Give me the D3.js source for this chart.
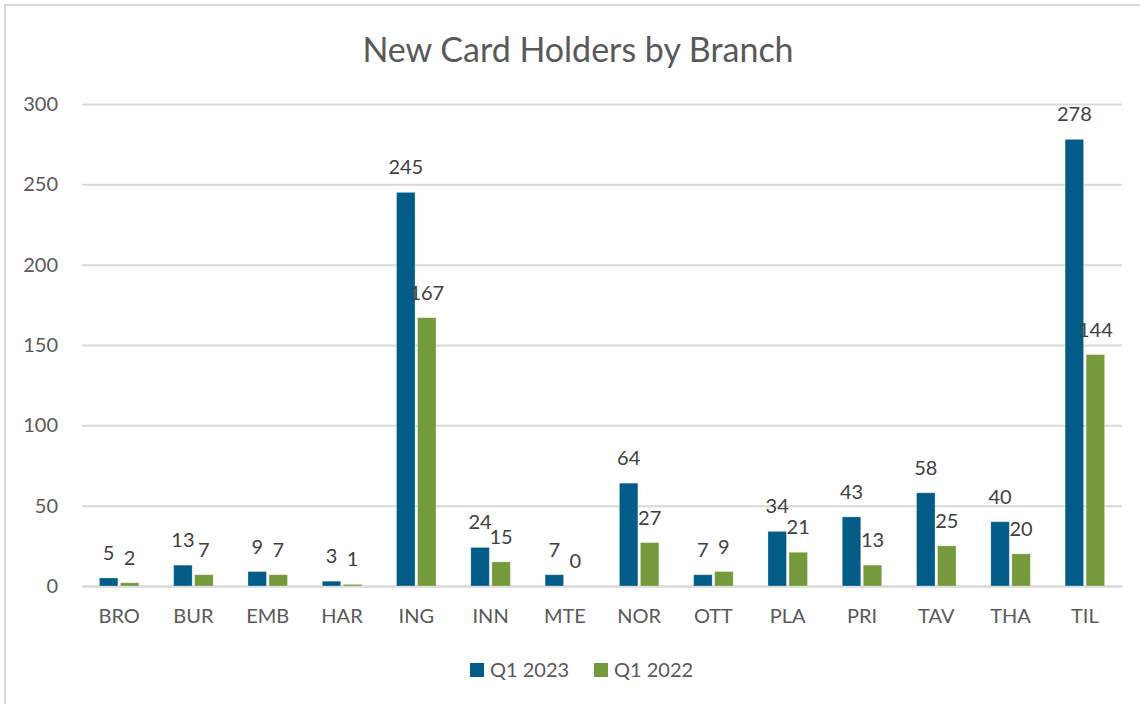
<!DOCTYPE html>
<html><head><meta charset="utf-8">
<script src="https://cdn.jsdelivr.net/npm/d3@7"></script>
<style>
html,body{margin:0;padding:0;background:#fff;}
svg{display:block;font-family:Lato,"Open Sans",sans-serif;}
</style></head>
<body>
<svg id="c" width="1140" height="704"></svg>
<script>
const categories = ["BRO","BUR","EMB","HAR","ING","INN","MTE","NOR","OTT","PLA","PRI","TAV","THA","TIL"];
const q12023 = [5,13,9,3,245,24,7,64,7,34,43,58,40,278];
const q12022 = [2,7,7,1,167,15,0,27,9,21,13,25,20,144];
const seriesNames = ["Q1 2023","Q1 2022"];
const yTicks = [0,50,100,150,200,250,300];
const title = "New Card Holders by Branch";

const colors = ["#035B87","#759A3C"];
const svg = d3.select("#c");
const pLeft = 82, pRight = 1122, pTop = 104, pBottom = 586;

// border
svg.append("rect").attr("x",5).attr("y",5).attr("width",1160).attr("height",720)
  .attr("fill","none").attr("stroke","#D9D9D9").attr("stroke-width",2);

const x = d3.scaleBand().domain(categories).range([pLeft,pRight]).padding(0);
const y = d3.scaleLinear().domain([0,300]).range([pBottom,pTop]);

// gridlines + y axis
const yAxis = d3.axisLeft(y).tickValues(yTicks).tickSize(-(pRight-pLeft)).tickPadding(24);
const gy = svg.append("g").attr("transform",`translate(${pLeft},0)`).call(yAxis);
gy.select(".domain").remove();
gy.selectAll(".tick line").attr("stroke","#D9D9D9").attr("stroke-width",2);
gy.selectAll(".tick text").attr("fill","#595959").style("font-size","20px").attr("font-family","Lato");

// x axis
const xAxis = d3.axisBottom(x).tickSize(0).tickPadding(23);
const gx = svg.append("g").attr("transform",`translate(0,${pBottom})`).call(xAxis);
gx.select(".domain").attr("stroke","#D9D9D9").attr("stroke-width",2);
gx.selectAll(".tick text").attr("fill","#595959").style("font-size","20px").attr("font-family","Lato");

const inner = d3.scaleBand().domain([0,1]).range([-21,21]).paddingInner(0.12).paddingOuter(0.06);
const series = [q12023,q12022];
series.forEach((vals,si)=>{
  const g = svg.append("g");
  g.selectAll("rect").data(categories).join("rect")
    .attr("x",(c)=>x(c)+x.bandwidth()/2+inner(si))
    .attr("width",inner.bandwidth())
    .attr("y",(c,i)=>y(vals[i]))
    .attr("height",(c,i)=>pBottom-y(vals[i]))
    .attr("fill",colors[si])
    .attr("stroke","#ffffff").attr("stroke-opacity",0.35).attr("stroke-width",0.8);
  g.selectAll("text").data(categories).join("text")
    .attr("x",(c)=>x(c)+x.bandwidth()/2+inner(si)+inner.bandwidth()/2)
    .attr("y",(c,i)=>y(vals[i])-18)
    .attr("text-anchor","middle")
    .attr("fill","#404040").style("font-size","20px")
    .text((c,i)=>vals[i]);
});

// title
svg.append("text").attr("x",578).attr("y",62).attr("text-anchor","middle")
  .attr("fill","#595959").style("font-size","34px").text(title);

// legend
const legX = [470,594];
seriesNames.forEach((n,i)=>{
  svg.append("rect").attr("x",legX[i]).attr("y",663).attr("width",14).attr("height",14).attr("fill",colors[i]);
  svg.append("text").attr("x",legX[i]+20).attr("y",677).attr("fill","#595959").style("font-size","20px").text(n);
});
</script>
</body></html>
